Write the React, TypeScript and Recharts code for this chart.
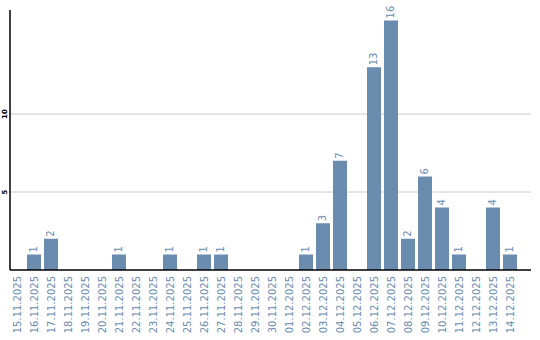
import React from "react";
import { BarChart, Bar, XAxis, YAxis, CartesianGrid, LabelList } from "recharts";

const dates = [
  "15.11.2025", "16.11.2025", "17.11.2025", "18.11.2025", "19.11.2025",
  "20.11.2025", "21.11.2025", "22.11.2025", "23.11.2025", "24.11.2025",
  "25.11.2025", "26.11.2025", "27.11.2025", "28.11.2025", "29.11.2025",
  "30.11.2025", "01.12.2025", "02.12.2025", "03.12.2025", "04.12.2025",
  "05.12.2025", "06.12.2025", "07.12.2025", "08.12.2025", "09.12.2025",
  "10.12.2025", "11.12.2025", "12.12.2025", "13.12.2025", "14.12.2025",
];
const counts = [0, 1, 2, 0, 0, 0, 1, 0, 0, 1, 0, 1, 1, 0, 0, 0, 0, 1, 3, 7, 0, 13, 16, 2, 6, 4, 1, 0, 4, 1];
const yTicks = [5, 10];

const data = dates.map((d, i) => ({ date: d, value: counts[i] }));

const BLUE = "#6a8caf";
const FONT = "DejaVu Sans, sans-serif";

const XTick = (props: any) => {
  const { x, y, payload } = props;
  return (
    <text
      x={x}
      y={y}
      transform={`rotate(-90, ${x}, ${y})`}
      textAnchor="end"
      dy="0.35em"
      fill={BLUE}
      fontSize={10}
      fontFamily={FONT}
    >
      {payload.value}
    </text>
  );
};

const YTick = (props: any) => {
  const { y, payload } = props;
  const x = 5;
  return (
    <text
      x={x}
      y={y}
      transform={`rotate(-90, ${x}, ${y})`}
      textAnchor="middle"
      dy="0.35em"
      fill="#000"
      fontSize={7}
      fontWeight="bold"
      fontFamily={FONT}
    >
      {payload.value}
    </text>
  );
};

const ValueLabel = (props: any) => {
  const { x, y, width, value } = props;
  if (!value) return null;
  const cx = x + width / 2;
  const cy = y - 2;
  return (
    <text
      x={cx}
      y={cy}
      transform={`rotate(-90, ${cx}, ${cy})`}
      textAnchor="start"
      dy="0.35em"
      fill={BLUE}
      fontSize={10}
      fontFamily={FONT}
    >
      {value}
    </text>
  );
};

export default function App() {
  return (
    <div style={{ position: "absolute", left: 0, top: 0, width: 540, height: 340, background: "#fff" }}>
      <BarChart
        width={540}
        height={340}
        data={data}
        margin={{ top: 10, right: 9, left: 0, bottom: 0 }}
        barCategoryGap={1.5}
      >
        <CartesianGrid vertical={false} stroke="#cccccc" horizontalValues={yTicks} />
        <XAxis
          dataKey="date"
          interval={0}
          height={70}
          tickLine={false}
          tickSize={0}
          tickMargin={6}
          axisLine={{ stroke: "#000", strokeWidth: 1.5 }}
          padding={{ left: -1.5, right: 12.5 }}
          tick={<XTick />}
        />
        <YAxis
          width={10}
          domain={[0, 16.67]}
          ticks={yTicks}
          tickLine={false}
          axisLine={{ stroke: "#000", strokeWidth: 1.5 }}
          tick={<YTick />}
          allowDataOverflow
        />
        <Bar dataKey="value" fill={BLUE} isAnimationActive={false}>
          <LabelList dataKey="value" content={<ValueLabel />} />
        </Bar>
      </BarChart>
    </div>
  );
}
